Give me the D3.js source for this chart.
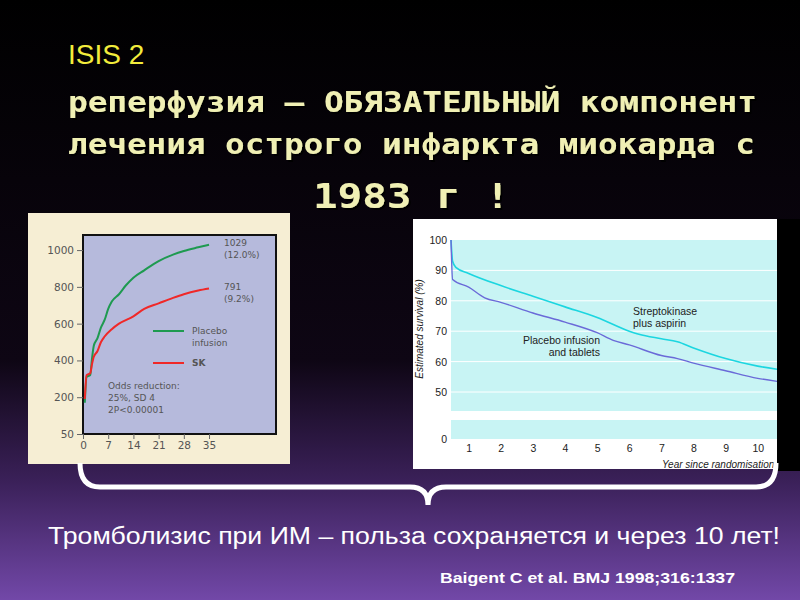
<!DOCTYPE html>
<html><head><meta charset="utf-8">
<script src="https://cdn.jsdelivr.net/npm/d3@7"></script>
<style>body{margin:0;background:#000}svg{display:block}</style>
</head><body>
<svg id="c" width="800" height="600"></svg>
<script>
// ---- data ----
const leftDays = [0.5,1,2,2.5,3,4,5,6,7,8,10,12,14,17,21,25,28,32,35];
const placeboEvents = [170,310,320,410,480,520,580,620,680,720,760,810,850,890,940,975,995,1015,1029];
const skDays = [0.5,1,2,2.5,3,4,5,6,8,10,14,17,21,25,28,32,35];
const skEvents = [190,320,330,380,420,450,500,530,570,600,640,680,710,740,760,780,791];
const leftYTicks = [0,200,400,600,800,1000];
const leftYLabels = ["50","200","400","600","800","1000"];
const leftXTicks = [0,7,14,21,28,35];

const skaYears = [0.45,0.5,0.6,1,2,3,4,5,6,6.3,7,7.5,8,9,10,10.6];
const skaSurv = [100,93,91,89,85,81.5,78,74.5,70,69,67.5,66.5,64.5,61,58.5,57.5];
const plaYears = [0.45,0.5,1,1.5,2,3,4,5,5.5,6,7,7.5,8,9,10,10.6];
const plaSurv = [100,87,84.5,81,79.5,76,73,69.5,67,65.5,62,61,59.5,57,54.5,53.5];
const rightYTicks = [50,60,70,80,90,100];
const rightXTicks = [1,2,3,4,5,6,7,8,9,10];

const svg = d3.select("#c");
const defs = svg.append("defs");
const g = defs.append("linearGradient").attr("id","bg").attr("x1",0).attr("y1",0).attr("x2",0).attr("y2",1);
g.append("stop").attr("offset","0").attr("stop-color","#000");
g.append("stop").attr("offset","0.6").attr("stop-color","#0e0614");
g.append("stop").attr("offset","0.8").attr("stop-color","#3a2058");
g.append("stop").attr("offset","1").attr("stop-color","#7248a8");
const f = defs.append("filter").attr("id","sh");
f.append("feDropShadow").attr("dx",2).attr("dy",2).attr("stdDeviation",0.5).attr("flood-color","#000");
svg.append("rect").attr("width",800).attr("height",600).attr("fill","url(#bg)");

// titles
svg.append("text").attr("x",68).attr("y",64).attr("fill","#f2ec3c").attr("font-family","Liberation Sans, Arial").attr("font-size",28).text("ISIS 2");
const tf = "DejaVu Sans Mono, monospace";
[["реперфузия – ОБЯЗАТЕЛЬНЫЙ компонент",68,112,689,28],["лечения острого инфаркта миокарда с",68,154,687,28],["1983 г !",313,208,197,33]].forEach(d=>{
  svg.append("text").attr("x",d[1]).attr("y",d[2]).attr("textLength",d[3]).attr("lengthAdjust","spacingAndGlyphs").attr("font-family",tf).attr("font-weight","bold").attr("font-size",d[4]).attr("fill","#f0f0b4").attr("filter","url(#sh)").text(d[0]);
});

// ---- left chart ----
svg.append("rect").attr("x",28).attr("y",213).attr("width",262).attr("height",251).attr("fill","#f6eed4");
const L = {x0:83,x1:276,y0:235,y1:434};
svg.append("rect").attr("x",L.x0).attr("y",L.y0).attr("width",L.x1-L.x0).attr("height",L.y1-L.y0).attr("fill","#b6badc").attr("stroke","#111").attr("stroke-width",2);
const lx = d3.scaleLinear().domain([0,53.6]).range([L.x0,L.x1]);
const ly = d3.scaleLinear().domain([0,1082]).range([L.y1,L.y0]);
const lya = svg.append("g").attr("transform",`translate(${L.x0},0)`).call(d3.axisLeft(ly).tickValues(leftYTicks).tickFormat((d,i)=>leftYLabels[i]).tickSize(6));
const lxa = svg.append("g").attr("transform",`translate(0,${L.y1})`).call(d3.axisBottom(lx).tickValues(leftXTicks).tickSize(5));
[lya,lxa].forEach(a=>{a.select(".domain").remove();a.selectAll("line").attr("stroke","#666");a.selectAll("text").attr("fill","#555").attr("font-family","DejaVu Sans").attr("font-size",10.5);});
const ll = d3.line().x(d=>d[0]).y(d=>d[1]).curve(d3.curveMonotoneX);
svg.append("path").attr("d",ll(leftDays.map((d,i)=>[lx(d),ly(placeboEvents[i])]))).attr("fill","none").attr("stroke","#1e9a50").attr("stroke-width",2);
svg.append("path").attr("d",ll(skDays.map((d,i)=>[lx(d),ly(skEvents[i])]))).attr("fill","none").attr("stroke","#f02828").attr("stroke-width",2);
const lt = (x,y,t,w)=>svg.append("text").attr("x",x).attr("y",y).attr("fill","#555").attr("font-family","DejaVu Sans").attr("font-size",9).attr("font-weight",w||"normal").text(t);
lt(224,246,"1029");lt(224,258,"(12.0%)");lt(224,290,"791");lt(224,302,"(9.2%)");
svg.append("line").attr("x1",153).attr("x2",184).attr("y1",331).attr("y2",331).attr("stroke","#1e9a50").attr("stroke-width",2);
svg.append("line").attr("x1",153).attr("x2",184).attr("y1",363).attr("y2",363).attr("stroke","#f02828").attr("stroke-width",2);
lt(192,334,"Placebo");lt(192,346,"infusion");lt(192,366,"SK","bold");
lt(108,389,"Odds reduction:");lt(108,401,"25%, SD 4");lt(108,413,"2P<0.00001");

// ---- right chart ----
svg.append("rect").attr("x",413).attr("y",219).attr("width",364).attr("height",250).attr("fill","#fff");
const R = {x0:451,x1:777};
const rx = d3.scaleLinear().domain([0.45,10.6]).range([R.x0,R.x1]);
const ry = d3.scaleLinear().domain([50,100]).range([392,240]);
const ry0 = 439;
svg.append("rect").attr("x",R.x0).attr("y",240).attr("width",R.x1-R.x0).attr("height",171).attr("fill","#c8f4f4");
svg.append("rect").attr("x",R.x0).attr("y",420).attr("width",R.x1-R.x0).attr("height",19).attr("fill","#c8f4f4");
rightYTicks.slice(0,-1).forEach(v=>svg.append("line").attr("x1",R.x0).attr("x2",R.x1).attr("y1",ry(v)).attr("y2",ry(v)).attr("stroke","#fff").attr("stroke-width",1));
const rt = (x,y,t,a)=>svg.append("text").attr("x",x).attr("y",y).attr("text-anchor",a||"end").attr("fill","#222").attr("font-family","Liberation Sans Narrow, Liberation Sans").attr("font-size",10.5).text(t);
rightYTicks.forEach(v=>rt(447,ry(v)+4,v));
rt(447,ry0+4,"0");
const rxa = svg.append("g").attr("transform",`translate(0,${ry0})`).call(d3.axisBottom(rx).tickValues(rightXTicks).tickSize(0).tickPadding(6));
rxa.select(".domain").remove();
rxa.selectAll("text").attr("fill","#222").attr("font-family","Liberation Sans Narrow, Liberation Sans").attr("font-size",10.5);
const rl = d3.line().x(d=>d[0]).y(d=>d[1]).curve(d3.curveMonotoneX);
svg.append("path").attr("d",rl(skaYears.map((d,i)=>[rx(d),ry(skaSurv[i])]))).attr("fill","none").attr("stroke","#1cd6e0").attr("stroke-width",1.6);
svg.append("path").attr("d",rl(plaYears.map((d,i)=>[rx(d),ry(plaSurv[i])]))).attr("fill","none").attr("stroke","#6a6ad8").attr("stroke-width",1.4);
rt(633,315,"Streptokinase","start");rt(633,327,"plus aspirin","start");
rt(600,344,"Placebo infusion");rt(600,356,"and tablets");
svg.append("text").attr("transform","translate(423,329) rotate(-90)").attr("text-anchor","middle").attr("font-style","italic").attr("fill","#222").attr("font-family","Liberation Sans Narrow, Liberation Sans").attr("font-size",10).text("Estimated survival (%)");
svg.append("text").attr("x",662).attr("y",468).attr("font-style","italic").attr("fill","#222").attr("font-family","Liberation Sans Narrow, Liberation Sans").attr("font-size",10).text("Year since randomisation");
svg.append("rect").attr("x",777).attr("y",219).attr("width",23).attr("height",252).attr("fill","#000");

// brace
svg.append("path").attr("d","M80,463 Q80,487 100,487 L410,487 Q428,487 428,505 Q428,487 446,487 L756,487 Q776,487 776,463")
  .attr("fill","none").attr("stroke","#fff").attr("stroke-width",5);

svg.append("text").attr("x",48).attr("y",544).attr("textLength",732).attr("lengthAdjust","spacingAndGlyphs").attr("fill","#fff").attr("font-family","Liberation Sans, Arial").attr("font-size",23).text("Тромболизис при ИМ – польза сохраняется и через 10 лет!");
svg.append("text").attr("x",440).attr("y",583).attr("textLength",295).attr("lengthAdjust","spacingAndGlyphs").attr("fill","#fff").attr("font-family","Liberation Sans, Arial").attr("font-weight","bold").attr("font-size",14).text("Baigent C et al. BMJ 1998;316:1337");
</script></body></html>
